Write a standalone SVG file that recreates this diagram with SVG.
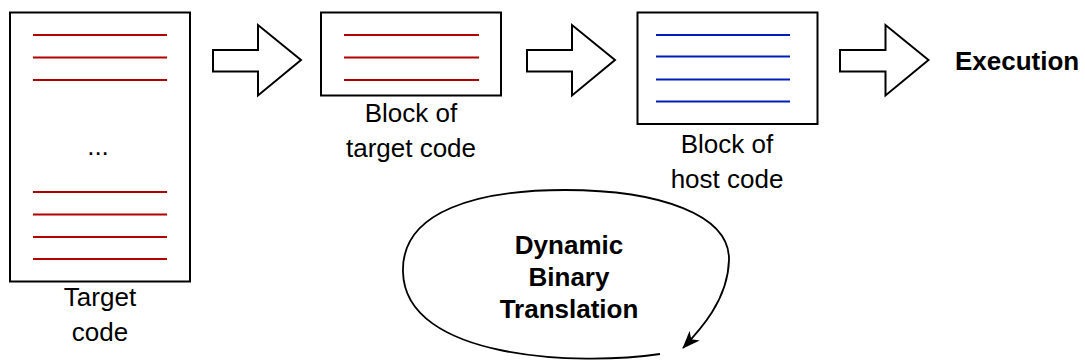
<svg xmlns="http://www.w3.org/2000/svg" width="1085" height="363" viewBox="0 0 1085 363">
  <style>
    .box { fill: #ffffff; stroke: #000000; stroke-width: 2; }
    .red { stroke: #b20000; stroke-width: 2; }
    .blue { stroke: #001dbc; stroke-width: 2; }
    .arrow { fill: #ffffff; stroke: #000000; stroke-width: 2; stroke-linejoin: miter; }
    .label { font-family: "Liberation Sans", Arial, sans-serif; font-size: 26px; fill: #000000; text-anchor: middle; }
    .bold { font-family: "Liberation Sans", Arial, sans-serif; font-size: 26px; font-weight: bold; fill: #000000; }
    .loop { fill: none; stroke: #000000; stroke-width: 1.8; }
  </style>
  <defs>
    <marker id="classic" markerUnits="userSpaceOnUse" viewBox="0 0 18 14" refX="17" refY="7" markerWidth="18" markerHeight="14" orient="auto">
      <path d="M0,0 L18,7 L0,14 L5,7 Z" fill="#000000"/>
    </marker>
  </defs>

  <rect width="1085" height="363" fill="#ffffff"/>

  <!-- Source program -->
  <g id="target-code">
    <rect class="box" x="10" y="12.5" width="180" height="269"/>
    <line class="red" x1="33" y1="35" x2="167" y2="35"/>
    <line class="red" x1="33" y1="57.5" x2="167" y2="57.5"/>
    <line class="red" x1="33" y1="80" x2="167" y2="80"/>
    <text class="label" x="98" y="155">...</text>
    <line class="red" x1="33" y1="192" x2="167" y2="192"/>
    <line class="red" x1="33" y1="214.5" x2="167" y2="214.5"/>
    <line class="red" x1="33" y1="237" x2="167" y2="237"/>
    <line class="red" x1="33" y1="259" x2="167" y2="259"/>
    <text class="label" x="100" y="306">Target</text>
    <text class="label" x="100" y="341">code</text>
  </g>

  <!-- Block arrows -->
  <g id="connectors">
    <path class="arrow" d="M213,50 L258,50 L258,25 L301,60 L258,95.5 L258,71.5 L213,71.5 Z"/>
    <path class="arrow" d="M527,50 L572,50 L572,25 L615,60 L572,95.5 L572,71.5 L527,71.5 Z"/>
    <path class="arrow" d="M840,50 L885.5,50 L885.5,25 L928.5,60 L885.5,95.5 L885.5,71.5 L840,71.5 Z"/>
  </g>

  <!-- Single translation block -->
  <g id="target-block">
    <rect class="box" x="321" y="12.5" width="180" height="83"/>
    <line class="red" x1="344" y1="35" x2="479" y2="35"/>
    <line class="red" x1="344" y1="57.5" x2="479" y2="57.5"/>
    <line class="red" x1="344" y1="80" x2="479" y2="80"/>
    <text class="label" x="411" y="121.5">Block of</text>
    <text class="label" x="411" y="156.5">target code</text>
  </g>

  <!-- Translated block -->
  <g id="host-block">
    <rect class="box" x="637.5" y="12.5" width="180" height="111.5"/>
    <line class="blue" x1="656" y1="35" x2="790" y2="35"/>
    <line class="blue" x1="656" y1="56.5" x2="790" y2="56.5"/>
    <line class="blue" x1="656" y1="79.5" x2="790" y2="79.5"/>
    <line class="blue" x1="656" y1="101.5" x2="790" y2="101.5"/>
    <text class="label" x="727" y="153">Block of</text>
    <text class="label" x="727" y="188">host code</text>
  </g>

  <g id="execution">
    <text class="bold" x="955" y="70">Execution</text>
  </g>

  <!-- Translation loop -->
  <g id="dbt-loop">
    <path class="loop" marker-end="url(#classic)" d="M660,354 C580,366 405,360 403,272 C401,210 480,190 565,190 C660,190 730,215 729,260 C728,300 700,330 683,348"/>
    <text class="bold" x="569" y="254" text-anchor="middle">Dynamic</text>
    <text class="bold" x="569" y="286" text-anchor="middle">Binary</text>
    <text class="bold" x="569" y="318" text-anchor="middle">Translation</text>
  </g>
</svg>
